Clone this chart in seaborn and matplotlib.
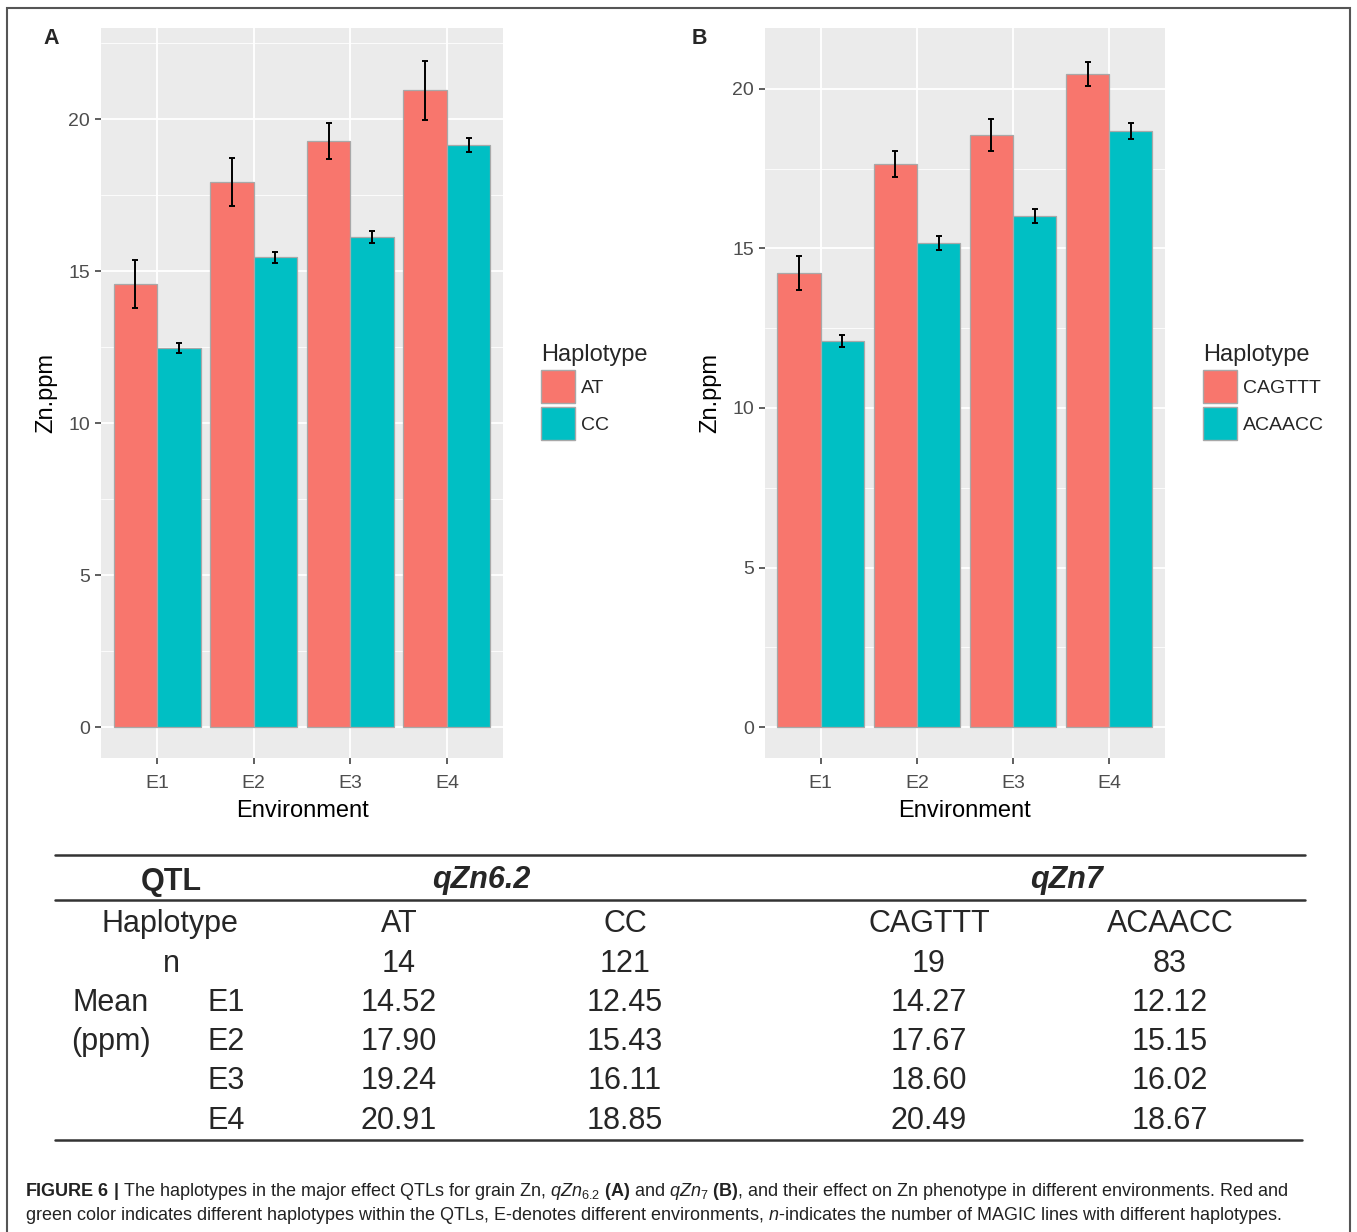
import numpy as np
import seaborn as sns
import matplotlib.pyplot as plt
import pandas as pd
from matplotlib.lines import Line2D
from matplotlib.patches import Patch, Rectangle
from matplotlib.ticker import MultipleLocator

sns.set_style("darkgrid", {"axes.facecolor": "#EBEBEB"})
plt.rcParams["font.family"] = ["Liberation Sans", "DejaVu Sans"]
plt.rcParams["mathtext.fontset"] = "custom"
plt.rcParams["mathtext.rm"] = "Liberation Sans"
plt.rcParams["mathtext.it"] = "Liberation Sans:italic"
plt.rcParams["mathtext.bf"] = "Liberation Sans:bold"

RED = "#F8766D"
TEAL = "#00BFC4"

environments = ["E1", "E2", "E3", "E4"]

# panel A (qZn6.2)
hap_a = ["AT", "CC"]
mean_a_at = [14.57, 17.93, 19.28, 20.95]
mean_a_cc = [12.47, 15.46, 16.12, 19.14]
err_a_at = [0.79, 0.78, 0.60, 0.97]
err_a_cc = [0.16, 0.18, 0.21, 0.23]

# panel B (qZn7)
hap_b = ["CAGTTT", "ACAACC"]
mean_b_1 = [14.23, 17.65, 18.56, 20.47]
mean_b_2 = [12.10, 15.17, 16.02, 18.68]
err_b_1 = [0.53, 0.41, 0.49, 0.39]
err_b_2 = [0.20, 0.23, 0.23, 0.25]

# table below the charts
table_n = ["14", "121", "19", "83"]
table_means = [
    ["14.52", "12.45", "14.27", "12.12"],
    ["17.90", "15.43", "17.67", "15.15"],
    ["19.24", "16.11", "18.60", "16.02"],
    ["20.91", "18.85", "20.49", "18.67"],
]
table_haps = hap_a + hap_b

W, H = 1357, 1232
fig = plt.figure(figsize=(W / 100, H / 100), dpi=100)


def fx(px):
    return px / W


def fy(py):
    return 1 - py / H


def draw_panel(rect, haplotypes, means, errs, ylim, letter, legend_x):
    ax = fig.add_axes(rect)
    df = pd.DataFrame(
        {
            "Environment": environments * 2,
            "Zn.ppm": means[0] + means[1],
            "Haplotype": [haplotypes[0]] * 4 + [haplotypes[1]] * 4,
        }
    )
    sns.barplot(
        data=df,
        x="Environment",
        y="Zn.ppm",
        hue="Haplotype",
        palette=[RED, TEAL],
        saturation=1,
        width=0.9,
        edgecolor="#A8A8A8",
        linewidth=0.9,
        errorbar=None,
        legend=False,
        ax=ax,
    )
    for container, e in zip(ax.containers, errs):
        xs = [p.get_x() + p.get_width() / 2 for p in container]
        ys = [p.get_height() for p in container]
        ax.errorbar(xs, ys, yerr=e, fmt="none", ecolor="black",
                    elinewidth=1.4, capsize=2.5, capthick=1.4, zorder=5)

    ax.set_ylim(*ylim)
    ax.set_xlim(-0.58, 3.58)
    ax.yaxis.set_major_locator(MultipleLocator(5))
    ax.yaxis.set_minor_locator(MultipleLocator(2.5))
    ax.grid(which="major", color="white", lw=1.3)
    ax.grid(which="minor", axis="y", color="white", lw=0.6)
    ax.set_axisbelow(True)
    for s in ax.spines.values():
        s.set_visible(False)
    ax.tick_params(which="major", length=4, width=1.1, color="#333333",
                   labelcolor="#4D4D4D", labelsize=14, left=True, bottom=True)
    ax.tick_params(axis="x", pad=8)
    ax.tick_params(axis="y", pad=4)
    ax.tick_params(which="minor", length=0)
    ax.set_xlabel("Environment", fontsize=17, color="black", labelpad=6)
    ax.set_ylabel("Zn.ppm", fontsize=17, color="black", labelpad=8)

    fig.text(fx(letter[1]), fy(letter[2]), letter[0], fontsize=15.5,
             fontweight="bold", ha="left", va="center")

    handles = [Patch(facecolor=RED, edgecolor="#A8A8A8"),
               Patch(facecolor=TEAL, edgecolor="#A8A8A8")]
    leg = ax.legend(handles, haplotypes, title="Haplotype", loc="upper left",
                    bbox_to_anchor=(fx(legend_x), fy(344)), bbox_transform=fig.transFigure,
                    frameon=False, fontsize=14, title_fontsize=17,
                    handlelength=1.75, handleheight=2.25, labelspacing=0.2,
                    handletextpad=0.3, borderpad=0, borderaxespad=0, alignment="left")
    leg._legend_box.sep = 3
    return ax


draw_panel([fx(101), fy(758), fx(402), 730 / H], hap_a,
           [mean_a_at, mean_a_cc], [err_a_at, err_a_cc], (-1.02, 23.0),
           ("A", 43, 39), 541)
draw_panel([fx(765), fy(758), fx(400), 730 / H], hap_b,
           [mean_b_1, mean_b_2], [err_b_1, err_b_2], (-0.97, 21.91),
           ("B", 692, 39), 1203)

# table
for y0, x1 in [(855, 1305), (900, 1305), (1140, 1302)]:
    fig.add_artist(Line2D([fx(55), fx(x1)], [fy(y0), fy(y0)], color="#333333", lw=1.8))

tsize = 22
fig.text(fx(171), fy(882), "QTL", fontsize=tsize, fontweight="bold", ha="center", va="center")
fig.text(fx(481), fy(880), "qZn6.2", fontsize=tsize, fontweight="bold", style="italic",
         ha="center", va="center")
fig.text(fx(1067), fy(880), "qZn7", fontsize=tsize, fontweight="bold", style="italic",
         ha="center", va="center")

col_x = [399, 625, 929, 1170]
row_y = [1003, 1042, 1081, 1121]
fig.text(fx(170), fy(924), "Haplotype", fontsize=tsize, ha="center", va="center")
fig.text(fx(171), fy(964), "n", fontsize=tsize, ha="center", va="center")
fig.text(fx(111), fy(1003), "Mean", fontsize=tsize, ha="center", va="center")
fig.text(fx(111), fy(1042), "(ppm)", fontsize=tsize, ha="center", va="center")
for cx, hap, n in zip(col_x, table_haps, table_n):
    fig.text(fx(cx), fy(924), hap, fontsize=tsize, ha="center", va="center")
    fig.text(fx(cx), fy(964), n, fontsize=tsize, ha="center", va="center")
for ry, env, row in zip(row_y, environments, table_means):
    fig.text(fx(226), fy(ry), env, fontsize=tsize, ha="center", va="center")
    for cx, val in zip(col_x, row):
        fig.text(fx(cx), fy(ry), val, fontsize=tsize, ha="center", va="center")

# caption
cap1 = (r"$\bf{FIGURE\ 6\ |}$ The haplotypes in the major effect QTLs for grain Zn, "
        r"$\it{qZn}_{6.2}$ $\bf{(A)}$ and $\it{qZn}_{7}$ $\bf{(B)}$, and their effect on Zn "
        r"phenotype in different environments. Red and")
cap2 = (r"green color indicates different haplotypes within the QTLs, E-denotes different "
        r"environments, $\it{n}$-indicates the number of MAGIC lines with different haplotypes.")
fig.text(fx(25), fy(1191), cap1, fontsize=13.0, ha="left", va="center", color="#222222")
fig.text(fx(25), fy(1216), cap2, fontsize=13.0, ha="left", va="center", color="#222222")

# outer frame
fig.add_artist(Rectangle((fx(7), -0.01), fx(1343), fy(8) + 0.01, transform=fig.transFigure,
                         fill=False, edgecolor="#555555", lw=1.5))

fig.savefig("out.png", dpi=100)
